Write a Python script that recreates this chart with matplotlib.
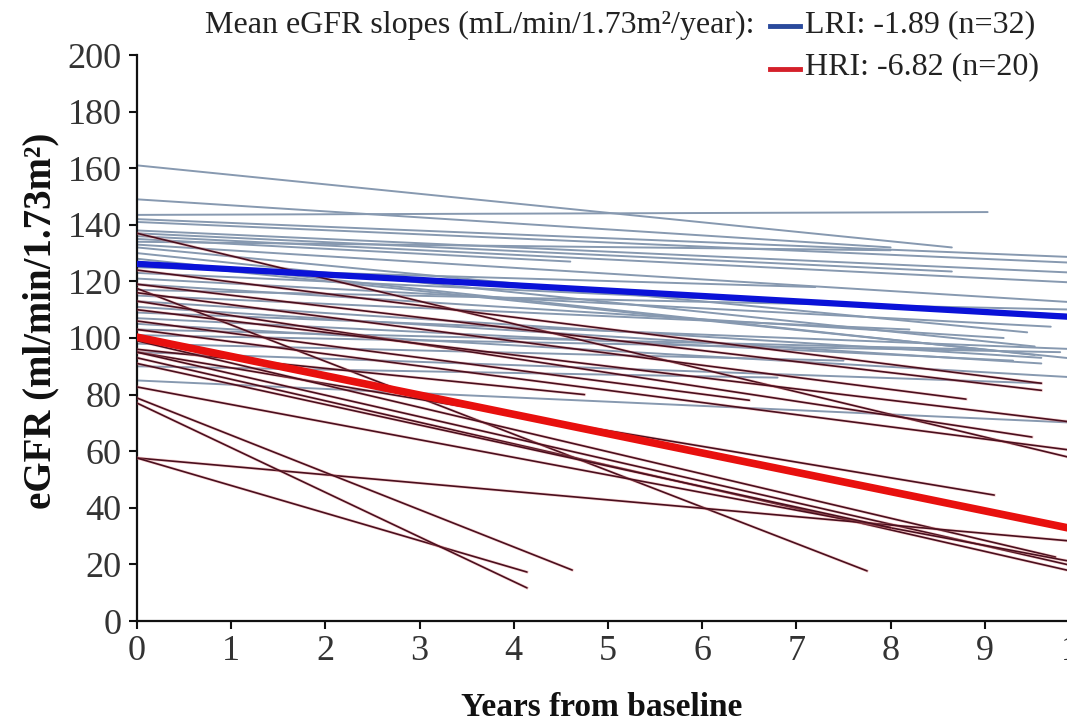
import matplotlib
matplotlib.use("Agg")
import matplotlib.pyplot as plt
from matplotlib.lines import Line2D

# ---- data ----
# individual LRI patients: start eGFR at year 0, last year, last eGFR
lri_start = [161, 149, 143.5, 142, 141, 138, 137, 136, 135, 134, 133, 132, 130, 128,
             127, 125, 123, 121, 119, 117, 115, 113, 111, 109, 107, 105, 103, 101,
             98, 95, 90, 85]
lri_end_x = [8.65, 8.0, 9.03, 10.0, 10.0, 10.0, 8.65, 10.0, 4.6, 8.0, 10.0, 9.45, 9.53, 9.53,
             10.0, 7.2, 10.0, 9.7, 9.2, 10.0, 8.2, 9.6, 9.6, 10.0, 9.3, 10.0, 8.9, 9.8,
             7.5, 9.6, 6.8, 10.0]
lri_end_y = [132, 132, 144.5, 128.5, 126.5, 123, 123.5, 119.5, 127, 131, 112.5, 102, 97, 94,
             92.5, 118, 108, 104, 100, 110, 103, 93, 91, 96, 92, 86, 96, 95,
             92, 84, 86, 70]

hri_start = [137, 124, 119, 117.5, 116, 113, 110, 106, 103, 96, 95, 99, 95, 93,
             82.7, 57.6, 57.6, 78.8, 77, 91]
hri_end_x = [10.0, 9.6, 9.6, 7.75, 8.8, 9.5, 10.0, 6.5, 10.0, 4.75, 9.1, 9.75, 10.0, 10.0,
             10.0, 10.0, 4.14, 4.62, 4.14, 8.0]
hri_end_y = [57, 84, 81.5, 17.7, 78.4, 65, 70, 78, 60, 80, 44.5, 22.6, 19, 17,
             20.5, 28, 17.3, 18, 11.7, 33]

mean_x = [0, 10]
lri_mean = [126.2, 126.2 - 1.89 * 10]
hri_mean = [100.3, 100.3 - 6.82 * 10]

x_ticks = list(range(0, 11))
y_ticks = list(range(0, 201, 20))

# ---- figure ----
fig = plt.figure(figsize=(10.67, 7.22), dpi=100)
W, H = 1067, 722
ax = fig.add_axes([137 / W, (H - 621) / H, (1079 - 137) / W, (621 - 55) / H])
ax.set_xlim(0, 10)
ax.set_ylim(0, 200)

lri_col = "#8799b0"
hri_col = "#4a0f1e"

for s, ex, ey in zip(lri_start, lri_end_x, lri_end_y):
    ax.plot([0, ex], [s, ey], color=lri_col, lw=1.4, solid_capstyle="round", zorder=2)
for s, ex, ey in zip(hri_start, hri_end_x, hri_end_y):
    ax.plot([0, ex], [s, ey], color="#e88080", lw=2.2, alpha=0.35, zorder=3)
    ax.plot([0, ex], [s, ey], color=hri_col, lw=1.2, solid_capstyle="round", zorder=3)

ax.plot(mean_x, lri_mean, color="#0a12d8", lw=4.5, zorder=5)
ax.plot(mean_x, hri_mean, color="#e8100e", lw=5.5, zorder=5)

for sp in ["top", "right"]:
    ax.spines[sp].set_visible(False)
for sp in ["left", "bottom"]:
    ax.spines[sp].set_linewidth(1.6)
    ax.spines[sp].set_color("#111111")

serif = ["Liberation Serif", "DejaVu Serif"]
ax.set_xticks(x_ticks)
ax.set_yticks(y_ticks)
ax.set_xticklabels([str(v) for v in x_ticks], fontfamily=serif, fontsize=26)
ax.set_yticklabels([str(v) for v in y_ticks], fontfamily=serif, fontsize=26)
ax.tick_params(axis="both", direction="out", length=6, width=1.5, color="#111111",
               labelcolor="#333333", pad=4)
ax.tick_params(axis="y", pad=5)

fig.text(602 / W, 1 - 708 / H, "Years from baseline", ha="center", va="center",
         fontfamily=serif, fontsize=24, fontweight="bold", color="#111111")
fig.text(41 / W, 1 - 321 / H, "eGFR (ml/min/1.73m\u00b2)", ha="center", va="center",
         rotation=90, fontfamily=serif, fontsize=28, fontweight="bold", color="#111111")

# legend
fs_leg = 23
fig.text(205 / W, 1 - 25 / H, "Mean eGFR slopes (mL/min/1.73m\u00b2/year):", ha="left",
         va="center", fontfamily=serif, fontsize=fs_leg, color="#222222")
fig.add_artist(Line2D([770 / W, 800 / W], [1 - 26 / H, 1 - 26 / H], color="#2a4a9c", lw=3.5))
fig.text(805 / W, 1 - 25 / H, "LRI: -1.89 (n=32)", ha="left", va="center",
         fontfamily=serif, fontsize=fs_leg, color="#222222")
fig.add_artist(Line2D([770 / W, 800 / W], [1 - 69 / H, 1 - 69 / H], color="#d4202a", lw=3.5))
fig.text(805 / W, 1 - 67 / H, "HRI: -6.82 (n=20)", ha="left", va="center",
         fontfamily=serif, fontsize=fs_leg, color="#222222")

fig.savefig("out.png", dpi=100)
